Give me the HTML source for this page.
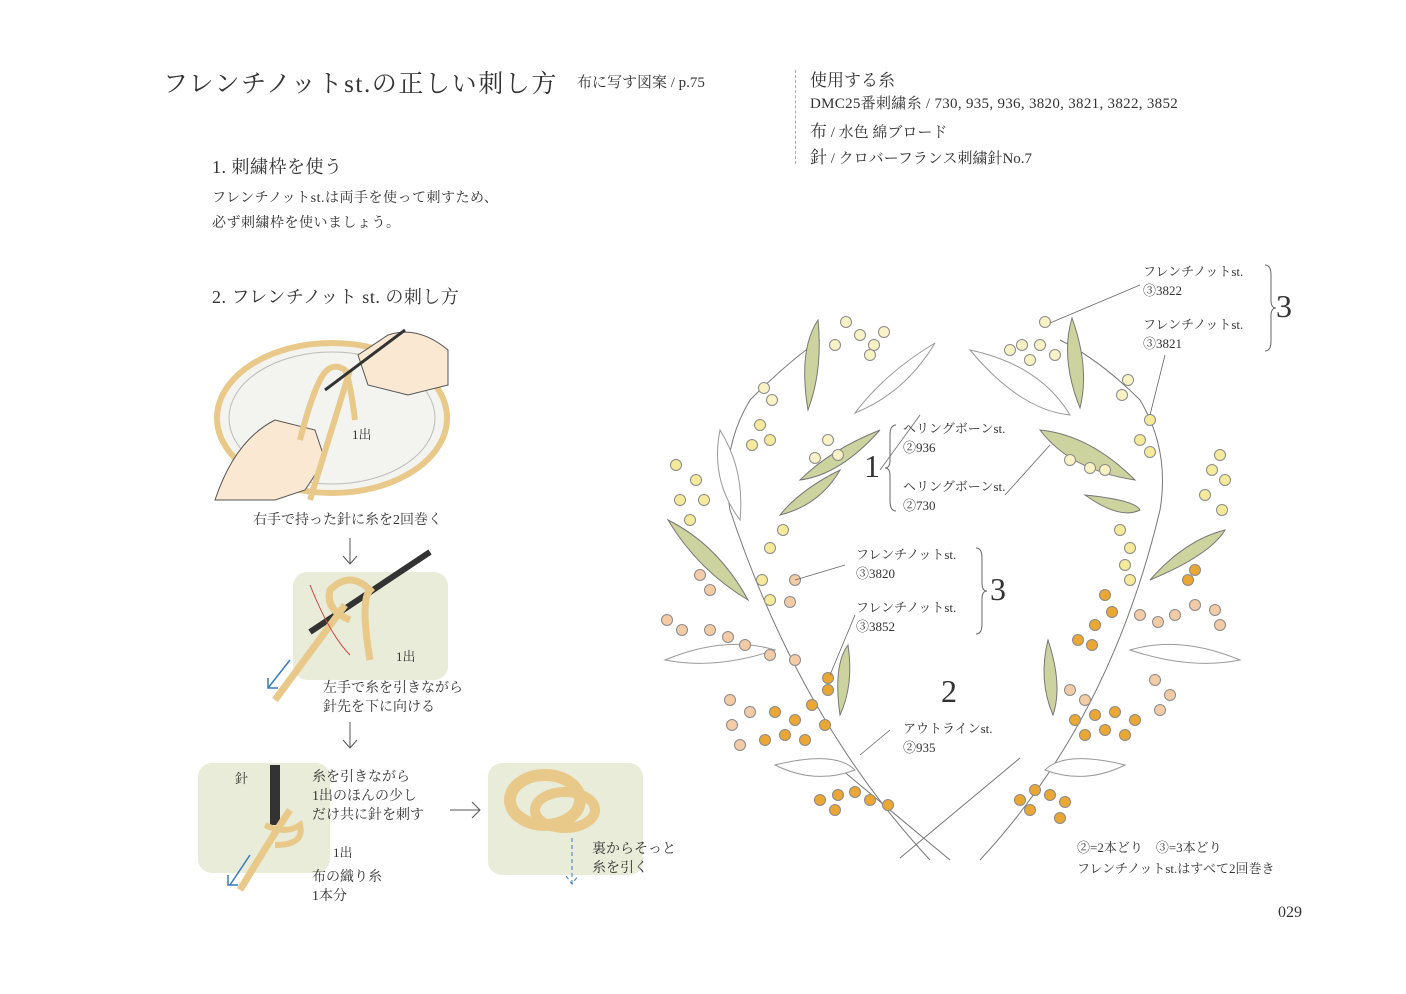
<!DOCTYPE html>
<html><head><meta charset="utf-8"><style>
body{margin:0;background:#fff;}
.p{position:relative;width:1406px;height:994px;overflow:hidden;font-family:"Liberation Serif","Noto Serif CJK SC",serif;color:#333;}
.t{position:absolute;white-space:nowrap;z-index:2;}
svg{z-index:1;}
</style></head><body><div class="p">
<div class="t" style="left:163px;top:64px;font-size:25px;letter-spacing:1.6px;">フレンチノットst.の正しい刺し方</div>
<div class="t" style="left:577px;top:71px;font-size:15px;">布に写す図案 / p.75</div>
<div class="t" style="left:810px;top:66px;font-size:17px;">使用する糸</div>
<div class="t" style="left:810px;top:92px;font-size:15px;letter-spacing:0.3px;">DMC25番刺繍糸 / 730, 935, 936, 3820, 3821, 3822, 3852</div>
<div class="t" style="left:810px;top:117px;font-size:15px;"><span style="font-size:17px">布</span> / 水色 綿ブロード</div>
<div class="t" style="left:810px;top:143px;font-size:15px;"><span style="font-size:17px">針</span> / クロバーフランス刺繍針No.7</div>
<div style="position:absolute;left:795px;top:70px;height:94px;border-left:1px dashed #aaa;"></div>
<div class="t" style="left:212px;top:153px;font-size:18px;letter-spacing:0.5px;">1. 刺繍枠を使う</div>
<div class="t" style="left:212px;top:186px;font-size:14px;line-height:25px;letter-spacing:0.5px;">フレンチノットst.は両手を使って刺すため、<br>必ず刺繍枠を使いましょう。</div>
<div class="t" style="left:212px;top:283px;font-size:18px;letter-spacing:0.5px;">2. フレンチノット st. の刺し方</div>
<div class="t" style="left:253px;top:509px;font-size:14px;">右手で持った針に糸を2回巻く</div>
<div class="t" style="left:323px;top:679px;font-size:14px;line-height:19px;">左手で糸を引きながら<br>針先を下に向ける</div>
<div class="t" style="left:312px;top:768px;font-size:14px;line-height:19px;">糸を引きながら<br>1出のほんの少し<br>だけ共に針を刺す</div>
<div class="t" style="left:312px;top:868px;font-size:14px;line-height:19px;">布の織り糸<br>1本分</div>
<div class="t" style="left:592px;top:840px;font-size:14px;line-height:19px;">裏からそっと<br>糸を引く</div>
<div class="t" style="left:235px;top:768px;font-size:13px;">針</div>
<div class="t" style="left:333px;top:842px;font-size:13px;">1出</div>
<div class="t" style="left:396px;top:646px;font-size:13px;">1出</div>
<div class="t" style="left:352px;top:424px;font-size:13px;">1出</div>
<div class="t" style="left:1143px;top:262px;font-size:13px;line-height:19px;">フレンチノットst.<br>③3822</div>
<div class="t" style="left:1143px;top:315px;font-size:13px;line-height:19px;">フレンチノットst.<br>③3821</div>
<div class="t" style="left:1276px;top:288px;font-size:32px;">3</div>
<div class="t" style="left:903px;top:419px;font-size:13px;line-height:19px;">ヘリングボーンst.<br>②936</div>
<div class="t" style="left:903px;top:477px;font-size:13px;line-height:19px;">ヘリングボーンst.<br>②730</div>
<div class="t" style="left:864px;top:448px;font-size:32px;">1</div>
<div class="t" style="left:856px;top:545px;font-size:13px;line-height:19px;">フレンチノットst.<br>③3820</div>
<div class="t" style="left:856px;top:598px;font-size:13px;line-height:19px;">フレンチノットst.<br>③3852</div>
<div class="t" style="left:990px;top:571px;font-size:32px;">3</div>
<div class="t" style="left:941px;top:673px;font-size:32px;">2</div>
<div class="t" style="left:903px;top:719px;font-size:13px;line-height:19px;">アウトラインst.<br>②935</div>
<div class="t" style="left:1077px;top:837px;font-size:13px;line-height:21px;">②=2本どり　③=3本どり<br>フレンチノットst.はすべて2回巻き</div>
<div class="t" style="left:1278px;top:904px;font-size:16px;">029</div>
<svg width="1406" height="994" style="position:absolute;left:0;top:0" fill="none" stroke="#666" stroke-width="1">
<rect x="293" y="572" width="155" height="108" rx="14" fill="#e9ecd9" stroke="none"/>
<rect x="198" y="763" width="132" height="110" rx="14" fill="#e9ecd9" stroke="none"/>
<rect x="488" y="763" width="155" height="112" rx="14" fill="#e9ecd9" stroke="none"/>
<path d="M1265 265q6 0 6 10v25q0 8 5 8q-5 0-5 8v25q0 10-6 10"/>
<path d="M896 425q-6 0-6 10v25q0 8-5 8q5 0 5 8v25q0 10 6 10"/>
<path d="M976 548q6 0 6 10v25q0 8 5 8q-5 0-5 8v25q0 10-6 10"/>
<g stroke="#555">
<ellipse cx="332" cy="418" rx="115" ry="75" fill="#f3f3ef" stroke="#e8c98a" stroke-width="6"/>
<ellipse cx="332" cy="418" rx="103" ry="66" stroke="#bbb"/>
<path d="M215 500q20-60 60-80l40 10 10 30-20 30-30 10z" fill="#fbe8d2"/>
<path d="M448 350q-30-25-60-15l-30 20 10 30 40 10 40-10z" fill="#fbe8d2"/>
<path d="M350 538v26M343 556l7 8 7-8"/>
<path d="M350 722v26M343 740l7 8 7-8"/>
<path d="M450 810h30M472 802l8 8-8 8"/>
</g>
<path d="M300 440q10-40 20-60q10-20 25-10q5 10 10 50" stroke="#e8c98a" stroke-width="6"/>
<path d="M350 370l-40 130" stroke="#e8c98a" stroke-width="6"/>
<path d="M405 330l-80 60" stroke="#333" stroke-width="3"/>
<path d="M430 552l-120 80" stroke="#333" stroke-width="6"/>
<path d="M370 660q-10-60 0-70q-20-20-40 0q-5 20 20 30M345 605l-70 95" stroke="#e8c98a" stroke-width="7"/>
<path d="M290 660l-22 28M268 678v10h10" stroke="#3a7ab8" stroke-width="1.5"/>
<path d="M310 585q20 50 40 70" stroke="#c44" stroke-width="1"/>
<path d="M275 765v60" stroke="#333" stroke-width="10"/>
<path d="M290 810q-20 30-50 80" stroke="#e8c98a" stroke-width="7"/>
<path d="M265 825q20 10 35 0q5 20-25 20" stroke="#e8c98a" stroke-width="6"/>
<path d="M250 855l-20 30M228 875v10h10" stroke="#3a7ab8" stroke-width="1.5"/>
<ellipse cx="545" cy="800" rx="35" ry="25" stroke="#e8c98a" stroke-width="12"/>
<ellipse cx="565" cy="810" rx="30" ry="18" stroke="#e8c98a" stroke-width="10"/>
<path d="M572 838v45M566 876l6 8 6-8" stroke="#3a7ab8" stroke-dasharray="4 3"/>
<g stroke="#777">
<path d="M930 860q-130-140-200-350q-10-60 20-110q40-40 70-60"/>
<path d="M980 860q130-140 180-350q10-60-20-110q-40-40-80-60"/>
<path d="M830 760l120 100M900 858l120-100"/>
</g>
<g fill="#cdd39f" stroke="#777">
<path d="M818 320q-20 30-10 90q15-40 10-90z"/>
<path d="M880 430q-50 20-80 50q40-5 80-50z"/>
<path d="M840 470q-40 20-60 45q40-10 60-45z"/>
<path d="M668 520q30 50 80 80q-30-55-80-80z"/>
<path d="M848 645q-15 20-8 70q14-30 8-70z"/>
<path d="M1072 318q-12 40 8 90q10-40-8-90z"/>
<path d="M1040 430q30 40 95 50q-45-45-95-50z"/>
<path d="M1085 495q50 5 55 15q-20 10-55-15z"/>
<path d="M1150 580q60-25 75-50q-40 10-75 50z"/>
<path d="M1048 640q-10 40 5 75q10-30-5-75z"/>
</g>
<g fill="#fff" stroke="#999">
<path d="M970 350q50 60 100 65q-30-50-100-65z"/>
<path d="M935 343q-50 30-80 70q50-20 80-70z"/>
<path d="M720 430q-10 50 20 90q5-50-20-90z"/>
<path d="M665 660q60-25 110-10q-60 20-110 10z"/>
<path d="M1240 660q-60-25-110-10q60 20 110 10z"/>
<path d="M775 765q60-15 80 5q-40 15-80-5z"/>
<path d="M1125 765q-60-15-80 5q40 15 80-5z"/>
</g>
<g stroke="#8a8a8a" stroke-width="1">
<circle cx="846" cy="322" r="5.5" fill="#f8f2c4"/><circle cx="860" cy="335" r="5.5" fill="#f8f2c4"/><circle cx="874" cy="345" r="5.5" fill="#f8f2c4"/><circle cx="884" cy="332" r="5.5" fill="#f8f2c4"/><circle cx="870" cy="355" r="5.5" fill="#f8f2c4"/><circle cx="835" cy="345" r="5.5" fill="#f8f2c4"/>
<circle cx="764" cy="388" r="5.5" fill="#f8f2c4"/><circle cx="772" cy="400" r="5.5" fill="#f8f2c4"/><circle cx="760" cy="425" r="5.5" fill="#f5ea9a"/><circle cx="752" cy="445" r="5.5" fill="#f5ea9a"/><circle cx="770" cy="440" r="5.5" fill="#f5ea9a"/>
<circle cx="828" cy="440" r="5.5" fill="#f8f2c4"/><circle cx="838" cy="455" r="5.5" fill="#f8f2c4"/><circle cx="815" cy="458" r="5.5" fill="#f8f2c4"/>
<circle cx="676" cy="465" r="5.5" fill="#f5ea9a"/><circle cx="696" cy="480" r="5.5" fill="#f5ea9a"/><circle cx="680" cy="500" r="5.5" fill="#f5ea9a"/><circle cx="704" cy="500" r="5.5" fill="#f5ea9a"/><circle cx="690" cy="520" r="5.5" fill="#f5ea9a"/>
<circle cx="783" cy="530" r="5.5" fill="#f5ea9a"/><circle cx="770" cy="548" r="5.5" fill="#f5ea9a"/><circle cx="762" cy="580" r="5.5" fill="#f5ea9a"/><circle cx="770" cy="600" r="5.5" fill="#f5ea9a"/>
<circle cx="700" cy="575" r="5.5" fill="#f3cba6"/><circle cx="710" cy="590" r="5.5" fill="#f3cba6"/><circle cx="795" cy="580" r="5.5" fill="#f3cba6"/><circle cx="790" cy="602" r="5.5" fill="#f3cba6"/>
<circle cx="667" cy="620" r="5.5" fill="#f3cba6"/><circle cx="682" cy="630" r="5.5" fill="#f3cba6"/><circle cx="710" cy="630" r="5.5" fill="#f3cba6"/><circle cx="728" cy="637" r="5.5" fill="#f3cba6"/><circle cx="745" cy="645" r="5.5" fill="#f3cba6"/><circle cx="770" cy="655" r="5.5" fill="#f3cba6"/><circle cx="795" cy="660" r="5.5" fill="#f3cba6"/>
<circle cx="730" cy="700" r="5.5" fill="#f3cba6"/><circle cx="750" cy="712" r="5.5" fill="#f3cba6"/><circle cx="732" cy="725" r="5.5" fill="#f3cba6"/><circle cx="740" cy="745" r="5.5" fill="#f3cba6"/>
<circle cx="828" cy="690" r="5.5" fill="#eaa733"/><circle cx="775" cy="712" r="5.5" fill="#eaa733"/><circle cx="795" cy="720" r="5.5" fill="#eaa733"/><circle cx="812" cy="705" r="5.5" fill="#eaa733"/><circle cx="785" cy="735" r="5.5" fill="#eaa733"/><circle cx="805" cy="740" r="5.5" fill="#eaa733"/><circle cx="825" cy="725" r="5.5" fill="#eaa733"/><circle cx="765" cy="740" r="5.5" fill="#eaa733"/><circle cx="828" cy="678" r="5.5" fill="#eaa733"/>
<circle cx="820" cy="800" r="5.5" fill="#eaa733"/><circle cx="838" cy="795" r="5.5" fill="#eaa733"/><circle cx="855" cy="792" r="5.5" fill="#eaa733"/><circle cx="870" cy="800" r="5.5" fill="#eaa733"/><circle cx="888" cy="805" r="5.5" fill="#eaa733"/><circle cx="835" cy="810" r="5.5" fill="#eaa733"/>
<circle cx="1045" cy="322" r="5.5" fill="#f8f2c4"/><circle cx="1022" cy="345" r="5.5" fill="#f8f2c4"/><circle cx="1040" cy="345" r="5.5" fill="#f8f2c4"/><circle cx="1055" cy="355" r="5.5" fill="#f8f2c4"/><circle cx="1010" cy="350" r="5.5" fill="#f8f2c4"/><circle cx="1030" cy="360" r="5.5" fill="#f8f2c4"/>
<circle cx="1128" cy="380" r="5.5" fill="#f8f2c4"/><circle cx="1122" cy="395" r="5.5" fill="#f8f2c4"/><circle cx="1150" cy="420" r="5.5" fill="#f5ea9a"/><circle cx="1140" cy="440" r="5.5" fill="#f5ea9a"/><circle cx="1150" cy="452" r="5.5" fill="#f5ea9a"/>
<circle cx="1070" cy="460" r="5.5" fill="#f8f2c4"/><circle cx="1090" cy="468" r="5.5" fill="#f8f2c4"/><circle cx="1105" cy="470" r="5.5" fill="#f8f2c4"/>
<circle cx="1220" cy="455" r="5.5" fill="#f5ea9a"/><circle cx="1212" cy="470" r="5.5" fill="#f5ea9a"/><circle cx="1225" cy="480" r="5.5" fill="#f5ea9a"/><circle cx="1205" cy="495" r="5.5" fill="#f5ea9a"/><circle cx="1222" cy="510" r="5.5" fill="#f5ea9a"/>
<circle cx="1120" cy="530" r="5.5" fill="#f5ea9a"/><circle cx="1130" cy="548" r="5.5" fill="#f5ea9a"/><circle cx="1125" cy="565" r="5.5" fill="#f5ea9a"/><circle cx="1130" cy="580" r="5.5" fill="#f5ea9a"/>
<circle cx="1195" cy="570" r="5.5" fill="#eaa733"/><circle cx="1188" cy="580" r="5.5" fill="#eaa733"/>
<circle cx="1105" cy="595" r="5.5" fill="#eaa733"/><circle cx="1112" cy="612" r="5.5" fill="#eaa733"/><circle cx="1095" cy="625" r="5.5" fill="#eaa733"/><circle cx="1078" cy="640" r="5.5" fill="#eaa733"/><circle cx="1092" cy="645" r="5.5" fill="#eaa733"/>
<circle cx="1140" cy="615" r="5.5" fill="#f3cba6"/><circle cx="1158" cy="622" r="5.5" fill="#f3cba6"/><circle cx="1175" cy="615" r="5.5" fill="#f3cba6"/><circle cx="1195" cy="605" r="5.5" fill="#f3cba6"/><circle cx="1215" cy="610" r="5.5" fill="#f3cba6"/><circle cx="1220" cy="625" r="5.5" fill="#f3cba6"/>
<circle cx="1070" cy="690" r="5.5" fill="#f3cba6"/><circle cx="1085" cy="700" r="5.5" fill="#f3cba6"/><circle cx="1155" cy="680" r="5.5" fill="#f3cba6"/><circle cx="1170" cy="695" r="5.5" fill="#f3cba6"/><circle cx="1160" cy="710" r="5.5" fill="#f3cba6"/>
<circle cx="1075" cy="720" r="5.5" fill="#eaa733"/><circle cx="1095" cy="715" r="5.5" fill="#eaa733"/><circle cx="1115" cy="712" r="5.5" fill="#eaa733"/><circle cx="1135" cy="720" r="5.5" fill="#eaa733"/><circle cx="1085" cy="735" r="5.5" fill="#eaa733"/><circle cx="1105" cy="730" r="5.5" fill="#eaa733"/><circle cx="1125" cy="735" r="5.5" fill="#eaa733"/>
<circle cx="1020" cy="800" r="5.5" fill="#eaa733"/><circle cx="1035" cy="790" r="5.5" fill="#eaa733"/><circle cx="1050" cy="795" r="5.5" fill="#eaa733"/><circle cx="1065" cy="802" r="5.5" fill="#eaa733"/><circle cx="1030" cy="810" r="5.5" fill="#eaa733"/><circle cx="1060" cy="818" r="5.5" fill="#eaa733"/>
</g>
<g stroke="#666" stroke-width="0.8">
<path d="M1140 285l-90 38M1165 355l-15 60M1050 445l-45 50M920 415l-40 55M845 565l-50 15M855 615l-25 60M890 730l-30 25"/>
</g>
</svg>
</div></body></html>
